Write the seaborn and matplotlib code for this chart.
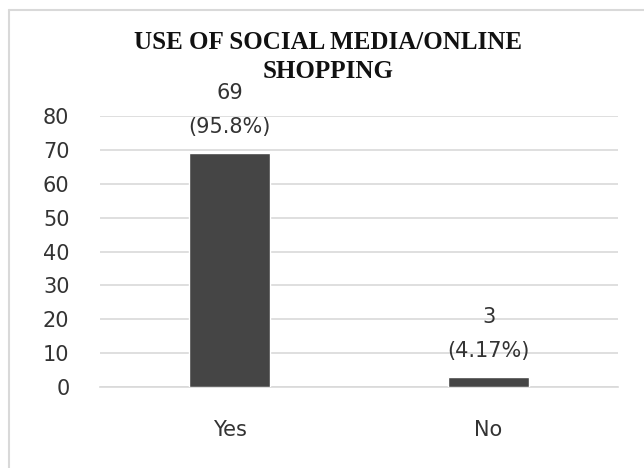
import pandas as pd
import matplotlib.pyplot as plt
import seaborn as sns
from matplotlib.lines import Line2D

categories = ['Yes', 'No']
counts = [69, 3]
percents = ['95.8%', '4.17%']

df = pd.DataFrame({'answer': categories, 'count': counts})

sns.set_style('white')
plt.rcParams['font.family'] = ['DejaVu Sans']

fig = plt.figure(figsize=(6.44, 4.68), dpi=100)
ax = fig.add_axes([100 / 644, 1 - 387 / 468, 518 / 644, 271 / 468])

sns.barplot(data=df, x='answer', y='count', color='#454545', width=0.31,
            saturation=1, ax=ax, zorder=3)

ax.set_ylim(0, 80)
ax.set_yticks(range(0, 81, 10))
ax.yaxis.grid(True, color='#d9d9d9', linewidth=1.2, zorder=0)
ax.set_xlabel('')
ax.set_ylabel('')
for s in ax.spines.values():
    s.set_visible(False)
ax.spines['bottom'].set_visible(True)
ax.spines['bottom'].set_color('#d9d9d9')
ax.spines['bottom'].set_linewidth(1.2)
ax.tick_params(axis='y', labelsize=15, colors='#333333', length=0, pad=22)
ax.tick_params(axis='x', labelsize=15, colors='#333333', length=0, pad=24)

# data labels above the bars
for i, (c, p) in enumerate(zip(counts, percents)):
    ax.annotate(f'({p})', (i, c), xytext=(0, 26), textcoords='offset pixels',
                ha='center', va='center', fontsize=15, color='#333333')
    ax.annotate(str(c), (i, c), xytext=(0, 60), textcoords='offset pixels',
                ha='center', va='center', fontsize=15, color='#333333')

fig.text(328 / 644, 1 - 57 / 468, 'USE OF SOCIAL MEDIA/ONLINE\nSHOPPING',
         ha='center', va='center', fontsize=18, fontweight='bold',
         family='Liberation Serif', linespacing=1.3, color='#111111')

# chart frame
fig.add_artist(Line2D([9 / 644, 9 / 644], [0, 1 - 10 / 468],
                      transform=fig.transFigure, color='#d9d9d9', linewidth=1.5))
fig.add_artist(Line2D([9 / 644, 1], [1 - 10 / 468, 1 - 10 / 468],
                      transform=fig.transFigure, color='#d9d9d9', linewidth=1.5))

fig.savefig('out.png', dpi=100)
